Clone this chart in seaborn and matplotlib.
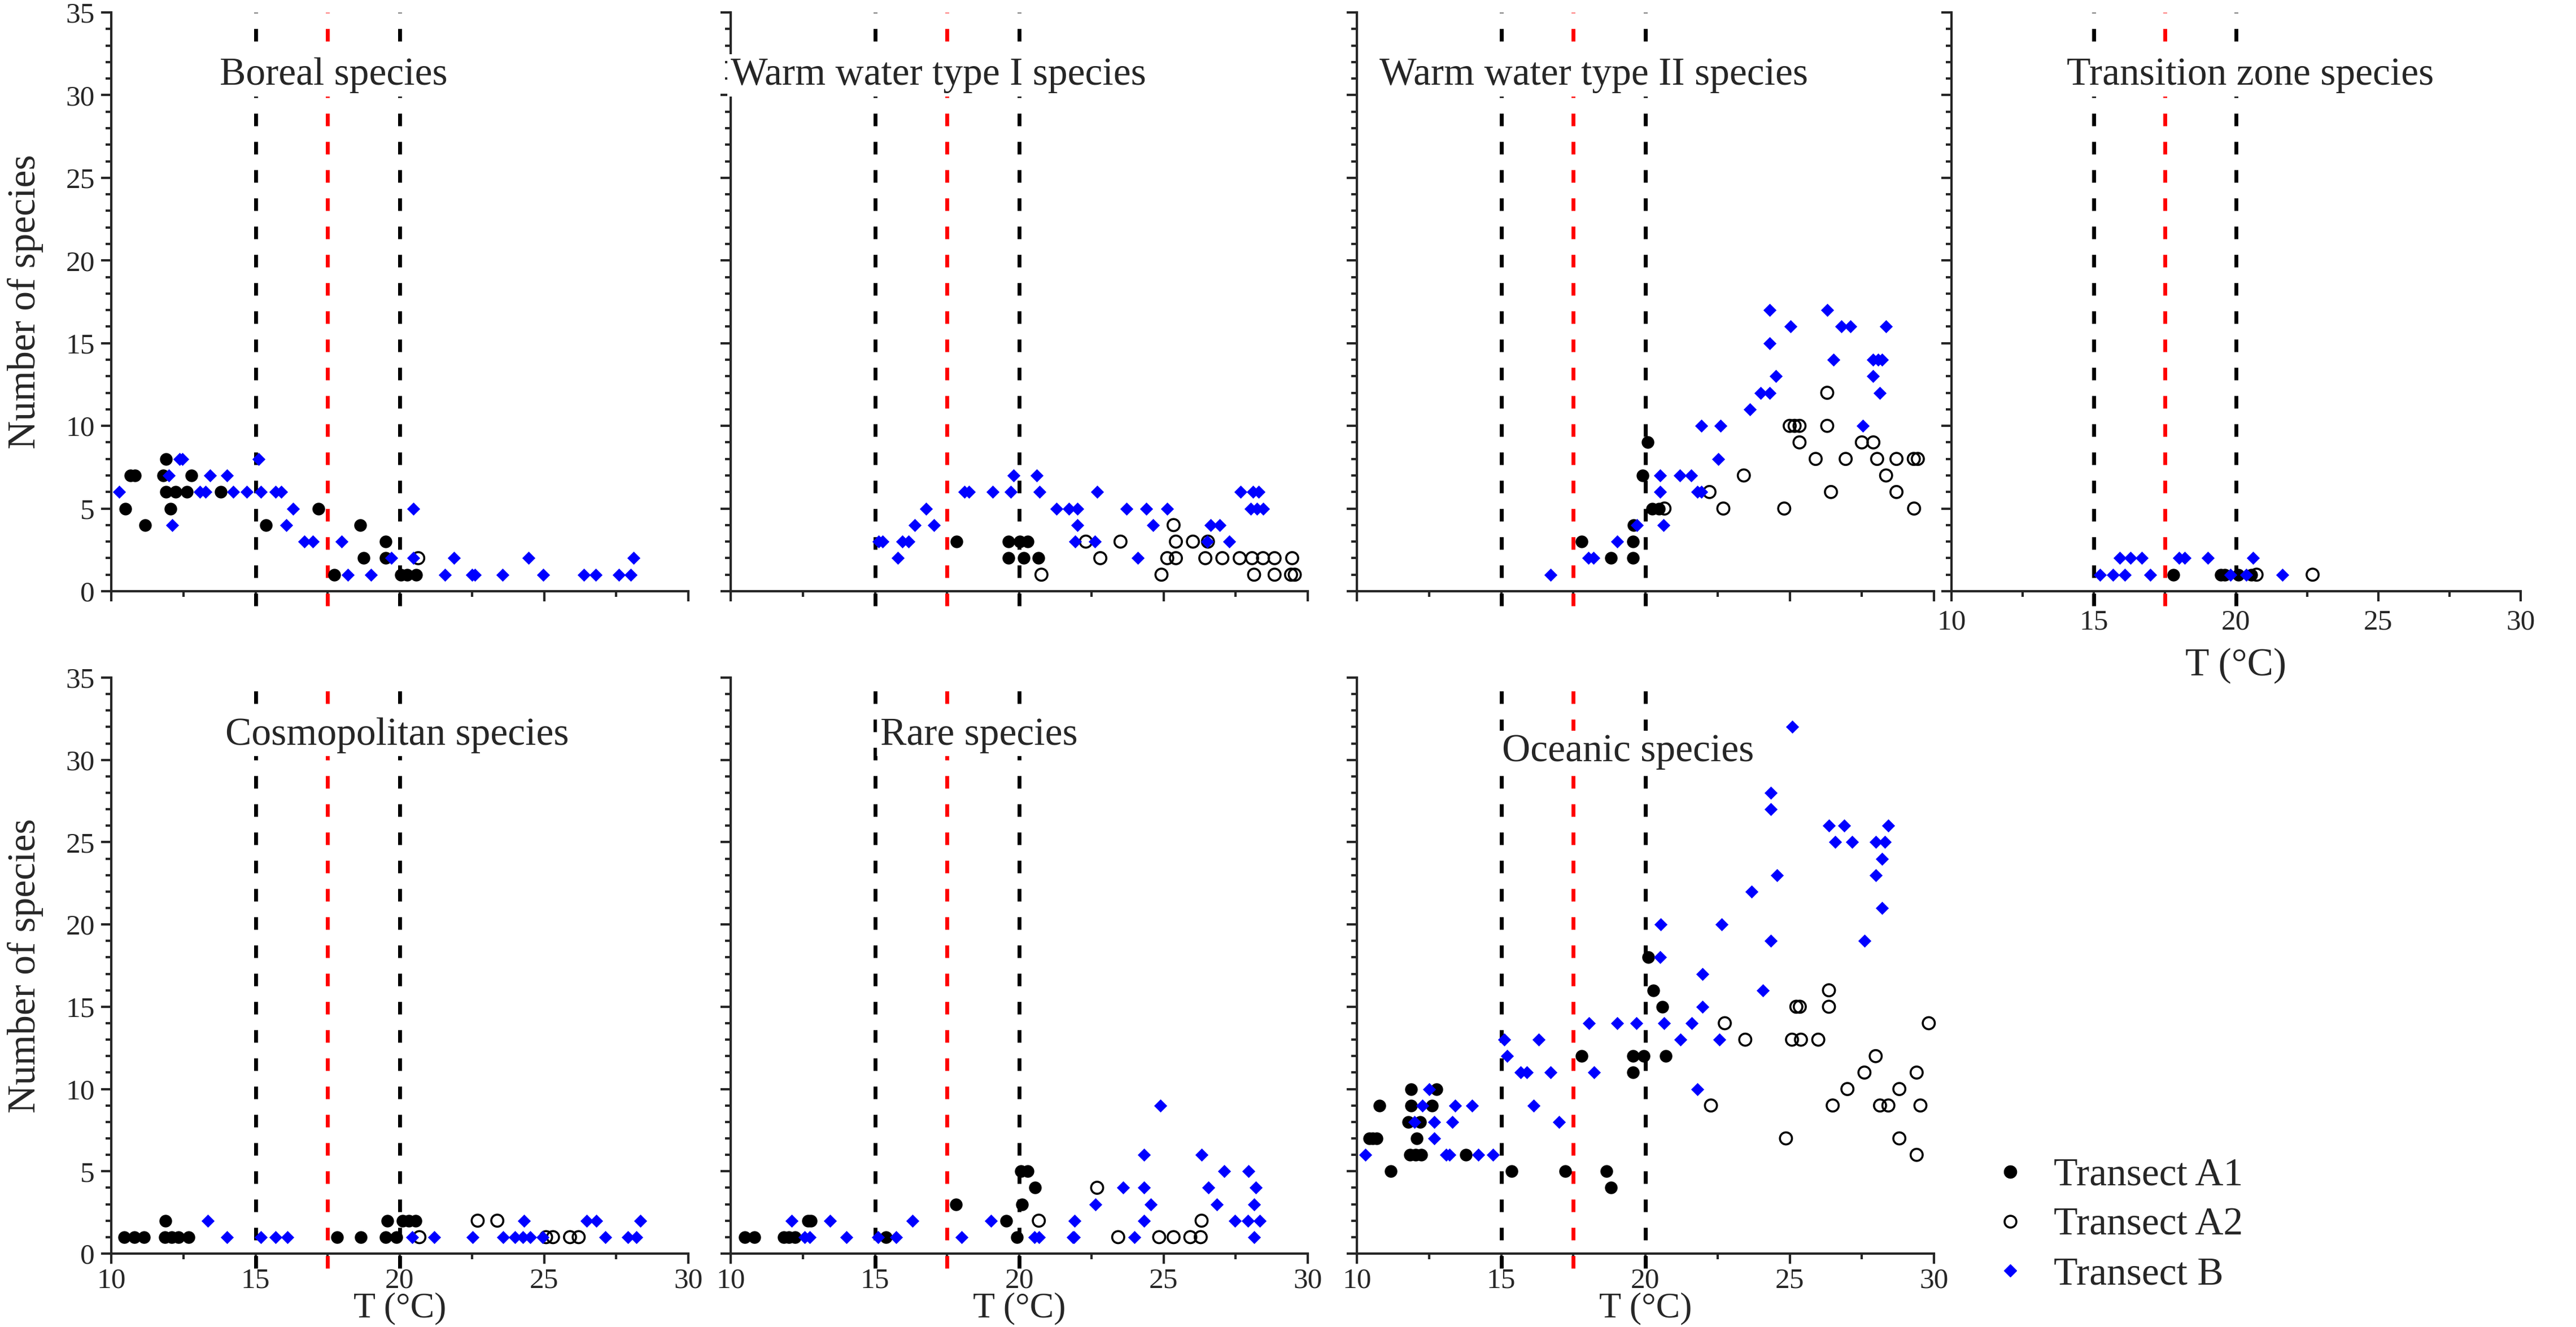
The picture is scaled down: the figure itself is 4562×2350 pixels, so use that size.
import pandas as pd
import seaborn as sns
import matplotlib.pyplot as plt
from matplotlib.lines import Line2D
from matplotlib.ticker import MultipleLocator

# (T in degC, number of species), per group and transect
boreal_a1 = [(10.49, 5), (10.66, 7), (10.82, 7), (11.17, 4), (11.9, 8), (11.81, 7), (11.9, 6), (12.23, 6),
             (12.63, 6), (12.05, 5), (12.77, 7), (13.8, 6), (15.37, 4), (17.18, 5), (17.73, 1), (18.63, 4),
             (18.74, 2), (19.51, 3), (19.51, 2), (20.03, 1), (20.25, 1), (20.56, 1)]
boreal_a2 = [(20.64, 2)]
boreal_b = [(10.27, 6), (12.36, 8), (12.47, 8), (12.0, 7), (13.43, 7), (14.02, 7), (12.12, 4), (13.07, 6),
            (13.26, 6), (14.22, 6), (14.69, 6), (15.19, 6), (15.7, 6), (15.89, 6), (15.1, 8), (16.3, 5),
            (16.06, 4), (16.69, 3), (16.98, 3), (17.98, 3), (19.7, 2), (20.47, 2), (20.47, 5), (21.87, 2),
            (24.47, 2), (18.19, 1), (19.01, 1), (21.57, 1), (22.5, 1), (22.61, 1), (23.57, 1), (24.97, 1),
            (26.37, 1), (26.8, 1), (27.6, 1), (28.0, 1), (28.1, 2)]

warm1_a1 = [(17.82, 3), (19.62, 3), (20.01, 3), (20.3, 3), (19.62, 2), (20.15, 2), (20.66, 2)]
warm1_a2 = [(20.77, 1), (24.93, 1), (28.14, 1), (28.85, 1), (29.42, 1), (29.55, 1), (22.81, 2), (25.13, 2),
            (25.43, 2), (26.45, 2), (27.04, 2), (27.64, 2), (28.07, 2), (28.45, 2), (28.85, 2), (29.46, 2),
            (22.31, 3), (23.51, 3), (25.43, 3), (26.02, 3), (26.54, 3), (25.35, 4)]
warm1_b = [(19.8, 7), (20.61, 7), (18.1, 6), (18.26, 6), (19.08, 6), (19.71, 6), (20.7, 6), (22.71, 6),
           (27.68, 6), (28.1, 6), (28.3, 6), (16.78, 5), (21.29, 5), (21.72, 5), (22.02, 5), (23.71, 5),
           (24.4, 5), (25.13, 5), (28.03, 5), (28.23, 5), (28.45, 5), (16.38, 4), (17.05, 4), (22.02, 4),
           (24.64, 4), (26.64, 4), (26.95, 4), (15.13, 3), (15.26, 3), (15.94, 3), (16.17, 3), (21.93, 3),
           (22.62, 3), (26.51, 3), (27.28, 3), (15.79, 2), (24.11, 2)]

warm2_a1 = [(17.78, 3), (18.81, 2), (19.57, 2), (19.57, 3), (19.59, 4), (19.9, 7), (20.07, 9), (20.23, 5),
            (20.47, 5)]
warm2_a2 = [(20.66, 5), (22.22, 6), (22.7, 5), (23.41, 7), (24.81, 5), (25.0, 10), (25.17, 10), (25.34, 10),
            (25.34, 9), (25.9, 8), (26.3, 12), (26.3, 10), (26.43, 6), (26.94, 8), (27.5, 9), (27.9, 9),
            (28.03, 8), (28.34, 7), (28.7, 8), (28.7, 6), (29.3, 8), (29.44, 8), (29.31, 5)]
warm2_b = [(16.72, 1), (18.03, 2), (18.19, 2), (19.02, 3), (19.71, 4), (20.63, 4), (20.5, 6), (20.5, 7),
           (21.2, 7), (21.59, 7), (21.8, 6), (21.94, 6), (22.53, 8), (21.94, 10), (22.6, 10), (23.62, 11),
           (24.0, 12), (24.31, 12), (24.52, 13), (24.31, 15), (24.31, 17), (25.02, 16), (26.3, 17),
           (26.51, 14), (26.8, 16), (27.1, 16), (27.54, 10), (27.89, 14), (28.06, 14), (28.2, 14),
           (27.89, 13), (28.13, 12), (28.34, 16)]

transition_a1 = [(17.8, 1), (19.47, 1), (19.6, 1), (20.07, 1), (20.54, 1)]
transition_a2 = [(20.72, 1), (22.69, 1)]
transition_b = [(15.92, 2), (16.29, 2), (16.68, 2), (18.0, 2), (18.2, 2), (19.0, 2), (20.59, 2), (15.21, 1),
                (15.68, 1), (16.1, 1), (16.99, 1), (19.8, 1), (20.36, 1), (21.62, 1)]

cosmo_a1 = [(10.45, 1), (10.8, 1), (11.14, 1), (11.85, 1), (12.09, 1), (12.33, 1), (12.68, 1), (17.82, 1),
            (18.65, 1), (19.51, 1), (19.88, 1), (11.88, 2), (19.57, 2), (20.09, 2), (20.32, 2), (20.54, 2)]
cosmo_a2 = [(22.7, 2), (23.38, 2), (20.68, 1), (25.07, 1), (25.31, 1), (25.9, 1), (26.2, 1)]
cosmo_b = [(13.34, 2), (24.3, 2), (26.47, 2), (26.81, 2), (28.33, 2), (14.01, 1), (15.19, 1), (15.7, 1),
           (16.11, 1), (20.43, 1), (21.19, 1), (22.53, 1), (23.59, 1), (24.0, 1), (24.27, 1), (24.52, 1),
           (24.96, 1), (27.13, 1), (27.91, 1), (28.19, 1)]

rare_a1 = [(10.48, 1), (10.82, 1), (11.84, 1), (12.02, 1), (12.23, 1), (15.39, 1), (19.92, 1), (12.68, 2),
           (12.78, 2), (19.55, 2), (17.8, 3), (20.09, 3), (20.54, 4), (20.05, 5), (20.3, 5)]
rare_a2 = [(23.43, 1), (24.85, 1), (25.35, 1), (25.93, 1), (26.29, 1), (20.68, 2), (26.32, 2), (22.7, 4)]
rare_b = [(12.57, 1), (12.74, 1), (14.01, 1), (15.11, 1), (15.73, 1), (18.0, 1), (20.52, 1), (20.68, 1),
          (21.85, 1), (21.9, 1), (24.0, 1), (28.14, 1), (12.12, 2), (13.44, 2), (16.31, 2), (19.03, 2),
          (21.92, 2), (24.32, 2), (27.48, 2), (27.92, 2), (28.34, 2), (22.65, 3), (24.56, 3), (26.84, 3),
          (28.14, 3), (23.6, 4), (24.32, 4), (26.55, 4), (28.2, 4), (27.11, 5), (27.94, 5), (24.32, 6),
          (26.32, 6), (24.9, 9)]

oceanic_a1 = [(10.43, 7), (10.54, 7), (10.68, 7), (10.79, 9), (11.17, 5), (11.87, 10), (12.76, 10), (11.87, 9),
              (12.6, 9), (11.78, 8), (12.19, 8), (12.08, 7), (11.84, 6), (12.04, 6), (12.23, 6), (13.77, 6),
              (15.36, 5), (17.23, 5), (17.78, 12), (18.64, 5), (18.81, 4), (19.57, 12), (19.94, 12),
              (19.57, 11), (20.1, 18), (20.27, 16), (20.58, 15), (20.7, 12)]
oceanic_a2 = [(22.27, 9), (22.75, 14), (23.46, 13), (24.87, 7), (25.08, 13), (25.39, 13), (25.23, 15),
              (25.35, 15), (25.99, 13), (26.36, 16), (26.36, 15), (26.49, 9), (27.0, 10), (27.59, 11),
              (27.98, 12), (28.13, 9), (28.42, 9), (28.8, 10), (28.8, 7), (29.4, 11), (29.53, 9), (29.4, 6),
              (29.82, 14)]
oceanic_b = [(10.29, 6), (12.5, 10), (12.27, 9), (13.4, 9), (14.0, 9), (12.0, 8), (12.68, 8), (13.3, 8),
             (12.68, 7), (13.09, 6), (13.2, 6), (14.2, 6), (14.71, 6), (15.1, 13), (16.3, 13), (15.2, 12),
             (15.68, 11), (15.9, 11), (16.72, 11), (16.12, 9), (17.0, 8), (18.05, 14), (18.21, 11),
             (19.02, 14), (19.69, 14), (20.5, 18), (20.64, 14), (21.22, 13), (21.6, 14), (21.8, 10),
             (20.53, 20), (22.65, 20), (21.97, 17), (21.97, 15), (22.56, 13), (23.68, 22), (24.07, 16),
             (24.35, 19), (24.35, 27), (24.35, 28), (24.56, 23), (25.08, 32), (26.36, 26), (26.88, 26),
             (28.42, 26), (26.57, 25), (27.17, 25), (27.98, 25), (28.29, 25), (28.2, 24), (27.98, 23),
             (28.2, 21), (27.6, 19)]

groups = ["Boreal species", "Warm water type I species", "Warm water type II species",
          "Transition zone species", "Cosmopolitan species", "Rare species", "Oceanic species"]
transects = ["Transect A1", "Transect A2", "Transect B"]
group_data = [
    (boreal_a1, boreal_a2, boreal_b),
    (warm1_a1, warm1_a2, warm1_b),
    (warm2_a1, warm2_a2, warm2_b),
    (transition_a1, transition_a2, transition_b),
    (cosmo_a1, cosmo_a2, cosmo_b),
    (rare_a1, rare_a2, rare_b),
    (oceanic_a1, oceanic_a2, oceanic_b),
]
boundaries = [15, 17.5, 20]

rows = []
for g, series in zip(groups, group_data):
    for tr, pts in zip(transects, series):
        for t, n in pts:
            rows.append((g, tr, t, n))
df = pd.DataFrame(rows, columns=["group", "transect", "T", "n"])

sns.set_style("ticks")
plt.rcParams["font.family"] = ["Liberation Serif", "DejaVu Serif"]

W, H = 4562, 2350
fig = plt.figure(figsize=(W / 100, H / 100), dpi=100)

# pixel boxes: (left, width) per column, (zero line, height) per row
col_box = {0: (197, 1022), 1: (1294, 1022), 2: (2403, 1022), 3: (3456, 1008)}
row_box = {0: (1047, 1025), 1: (2220, 1020)}
places = [(0, 0), (1, 0), (2, 0), (3, 0), (0, 1), (1, 1), (2, 1)]
title_pos = [(17.7, 31.2), (17.2, 31.2), (18.2, 31.2), (20.5, 31.2), (19.9, 31.5), (18.6, 31.5), (19.4, 30.5)]

styles = {
    "Transect A1": dict(marker="o", color="black", s=260, linewidth=0),
    "Transect A2": dict(marker="o", facecolors="none", edgecolor="black", s=235, linewidth=2.6),
    "Transect B": dict(marker="D", color="blue", s=140, linewidth=0),
}

for i, g in enumerate(groups):
    col, row = places[i]
    x0, w = col_box[col]
    y0, h = row_box[row]
    ax = fig.add_axes([x0 / W, 1 - y0 / H, w / W, h / H])
    sub = df[df["group"] == g]
    for tr in transects:
        sns.scatterplot(data=sub[sub["transect"] == tr], x="T", y="n", ax=ax,
                        legend=False, zorder=3, clip_on=False, **styles[tr])
    for b in boundaries:
        ax.axvline(b, ymin=-0.025, ymax=1, color="red" if b == 17.5 else "black",
                   lw=5, ls=(0, (3.2, 4.0)), zorder=1, clip_on=False)
    tx, ty = title_pos[i]
    ax.text(tx, ty, g, ha="center", va="center", fontsize=50, zorder=4,
            bbox=dict(facecolor="white", edgecolor="none", pad=4))

    ax.set_xlim(10, 30)
    ax.set_ylim(0, 35)
    ax.xaxis.set_major_locator(MultipleLocator(5))
    ax.xaxis.set_minor_locator(MultipleLocator(2.5))
    ax.yaxis.set_major_locator(MultipleLocator(5))
    ax.yaxis.set_minor_locator(MultipleLocator(1))
    sns.despine(ax=ax)
    for sp in ["left", "bottom"]:
        ax.spines[sp].set_linewidth(3)
    ax.tick_params(which="both", direction="out", width=3, labelsize=37)
    ax.tick_params(which="major", length=13)
    ax.tick_params(which="minor", length=7)
    ax.tick_params(axis="y", pad=8)
    ax.tick_params(axis="x", pad=10)

    if row == 1:
        # bottom row: label sits tight under the tick labels, at the figure's lower edge
        ax.tick_params(axis="x", pad=5)
        ax.set_xlabel("T (\u00b0C)", fontsize=46)
        ax.xaxis.set_label_coords(0.5, -(H - 4 - y0) / h)
        ax.xaxis.label.set_va("bottom")
    elif col == 3:
        ax.set_xlabel("T (\u00b0C)", fontsize=50, labelpad=16)
    else:
        ax.set_xlabel("")
        ax.tick_params(axis="x", labelbottom=False)
    if col == 0:
        ax.set_ylabel("Number of species", fontsize=50, labelpad=28)
    else:
        ax.set_ylabel("")
        ax.tick_params(axis="y", labelleft=False)

handles = [
    Line2D([], [], ls="none", marker="o", color="black", markersize=16),
    Line2D([], [], ls="none", marker="o", markerfacecolor="none", markeredgecolor="black",
           markeredgewidth=2.6, markersize=15),
    Line2D([], [], ls="none", marker="D", color="blue", markersize=11.5),
]
fig.legend(handles, transects, loc="center left", bbox_to_anchor=(3463 / W, 1 - 2170 / H),
           frameon=False, fontsize=50, handlelength=1.0, handletextpad=0.6, labelspacing=0.35)

fig.savefig("out.png", dpi=100)
